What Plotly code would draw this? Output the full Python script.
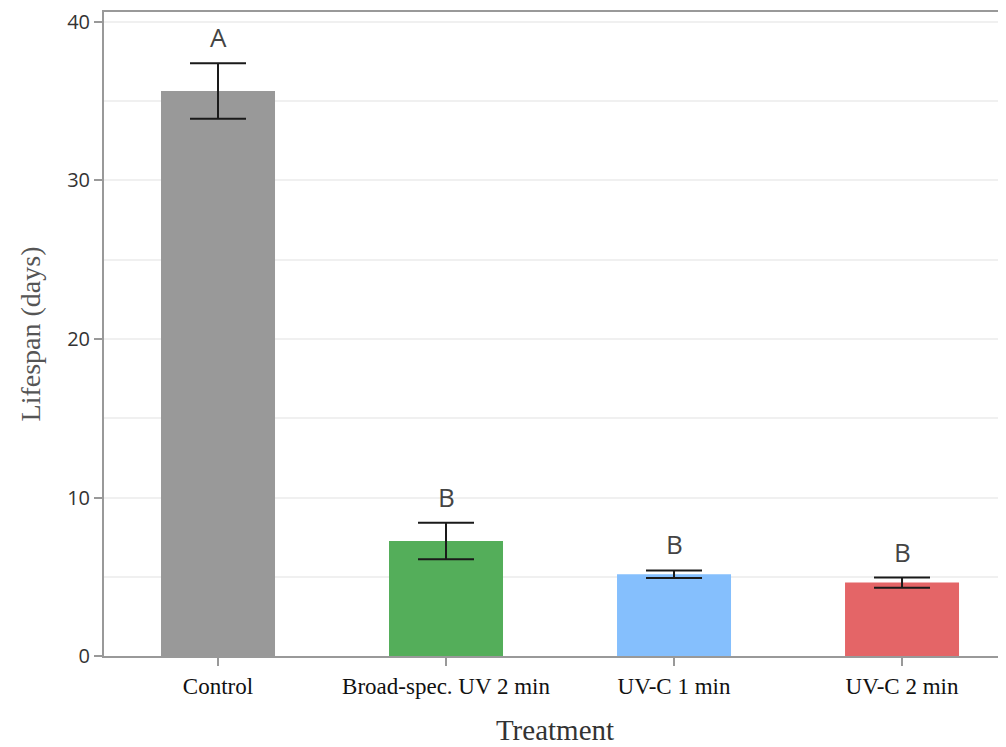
import plotly.graph_objects as go

categories = ["Control", "Broad-spec. UV 2 min", "UV-C 1 min", "UV-C 2 min"]
lifespan_mean = [35.65, 7.25, 5.16, 4.63]
lifespan_err = [1.75, 1.15, 0.24, 0.32]
group_letters = ["A", "B", "B", "B"]
bar_colors = ["#999999", "#54ae5a", "#85bffd", "#e46567"]
y_ticks = [0, 10, 20, 30, 40]

fig = go.Figure()
fig.add_trace(go.Bar(
    x=categories,
    y=lifespan_mean,
    width=0.5,
    marker=dict(color=bar_colors, line=dict(width=0)),
    error_y=dict(type="data", array=lifespan_err, visible=True,
                 color="#1a1a1a", thickness=2, width=28),
    showlegend=False,
))

for cat, m, e, letter in zip(categories, lifespan_mean, lifespan_err, group_letters):
    fig.add_annotation(x=cat, y=m + e, text=letter, showarrow=False,
                       yanchor="bottom", yshift=6,
                       font=dict(family="Open Sans", size=26, color="#444444"))

fig.update_layout(
    width=998, height=739,
    margin=dict(l=96, r=0, t=2, b=91),
    paper_bgcolor="white", plot_bgcolor="white",
    xaxis=dict(
        range=[-0.5, 3.456],
        showline=True, linecolor="#999999", linewidth=2, mirror=True,
        ticks="outside", ticklen=8, tickcolor="#999999", tickwidth=2,
        tickfont=dict(family="Liberation Serif", size=23, color="#111111"),
        title=dict(text="Treatment", standoff=22,
                   font=dict(family="Liberation Serif", size=29, color="#333333")),
        showgrid=False,
    ),
    yaxis=dict(
        range=[0, 40.63],
        tickvals=y_ticks,
        ticklabeloverflow="allow",
        showline=True, linecolor="#999999", linewidth=2,
        ticks="outside", ticklen=8, tickcolor="#999999", tickwidth=2,
        tickfont=dict(family="Open Sans", size=20, color="#333333"),
        showgrid=False, zeroline=False,
        minor=dict(dtick=5, showgrid=True, gridcolor="#f0f0f0", gridwidth=1.5),
        title=dict(text="Lifespan (days)", standoff=18,
                   font=dict(family="Liberation Serif", size=28, color="#555555")),
    ),
)

fig.write_html("out.html")
